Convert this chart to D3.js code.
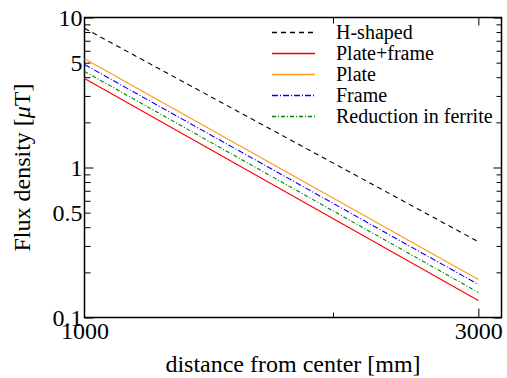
<!DOCTYPE html>
<html>
<head>
<meta charset="utf-8">
<script src="https://cdn.jsdelivr.net/npm/d3@7"></script>
<style>
  body { margin: 0; background: #fff; }
</style>
</head>
<body>
<div id="chart"></div>
<script>
// distances where each curve was read (mm)
var distances = [1000, 3000];

var seriesNames = ["H-shaped", "Plate+frame", "Plate", "Frame", "Reduction in ferrite"];
var hShaped = [8.47, 0.32];
var plateFrame = [3.92, 0.130];
var plate = [5.31, 0.179];
var frame = [4.86, 0.166];
var reduction = [4.37, 0.147];

var yLabelTicks = [10, 5, 1, 0.5, 0.1];
var yDecadeTicks = [10, 1, 0.1];
var yMinorTicks = [0.2, 0.3, 0.4, 0.5, 0.6, 0.7, 0.8, 0.9, 2, 3, 4, 5, 6, 7, 8, 9];
var xLabelTicks = [1000, 3000];
var xMinorTicks = [2000];

var width = 507, height = 378;
var margin = {top: 17.5, right: 5.5, bottom: 60.5, left: 84.5};
var serif = "'Liberation Serif', 'Times New Roman', Times, serif";

var svg = d3.select("#chart")
  .append("svg")
    .attr("width", width)
    .attr("height", height)
    .style("font-family", serif);

var x = d3.scaleLog()
  .domain([1000, 3200])
  .range([margin.left, width - margin.right]);

var y = d3.scaleLog()
  .domain([0.1, 10])
  .range([height - margin.bottom, margin.top]);

var styles = [
  {color: "#000000", dash: "5,4"},
  {color: "#ff0000", dash: null},
  {color: "#ff9a1a", dash: null},
  {color: "#0000ff", dash: "6,2,1,2"},
  {color: "#008000", dash: "4,2,1,2"}
];
var allValues = [hShaped, plateFrame, plate, frame, reduction];

// ticks, all pointing into the frame
function tickGroup(axis, tx, ty) {
  var g = svg.append("g")
    .attr("transform", "translate(" + tx + "," + ty + ")")
    .call(axis)
    .attr("font-family", null)
    .attr("font-size", null);
  g.select(".domain").remove();
  g.selectAll("line").attr("stroke", "#000").attr("stroke-width", 1);
  return g;
}

var x0 = margin.left, x1 = width - margin.right;
var y0 = margin.top, y1 = height - margin.bottom;

// left
tickGroup(d3.axisRight(y).tickValues(yDecadeTicks).tickSize(9).tickFormat(""), x0, 0);
tickGroup(d3.axisRight(y).tickValues(yMinorTicks).tickSize(6).tickFormat(""), x0, 0);
// right
tickGroup(d3.axisLeft(y).tickValues(yDecadeTicks).tickSize(8).tickFormat(""), x1, 0);
tickGroup(d3.axisLeft(y).tickValues(yMinorTicks).tickSize(5).tickFormat(""), x1, 0);
// bottom
tickGroup(d3.axisTop(x).tickValues([3000]).tickSize(9).tickFormat(""), 0, y1);
tickGroup(d3.axisTop(x).tickValues(xMinorTicks).tickSize(5).tickFormat(""), 0, y1);
// top
tickGroup(d3.axisBottom(x).tickValues([3000]).tickSize(8).tickFormat(""), 0, y0);
tickGroup(d3.axisBottom(x).tickValues(xMinorTicks).tickSize(6).tickFormat(""), 0, y0);

// tick labels
var yl = tickGroup(d3.axisLeft(y).tickValues(yLabelTicks).tickSize(0).tickPadding(2)
  .tickFormat(d3.format("")), x0, 0);
yl.selectAll("text").style("font-size", "24px").style("font-family", serif).attr("fill", "#000");

var xl = tickGroup(d3.axisBottom(x).tickValues(xLabelTicks).tickSize(0).tickPadding(4)
  .tickFormat(d3.format("")), 0, y1);
xl.selectAll("text").style("font-size", "24px").style("font-family", serif).attr("fill", "#000");

// frame
svg.append("rect")
  .attr("x", x0)
  .attr("y", y0)
  .attr("width", x1 - x0)
  .attr("height", y1 - y0)
  .attr("fill", "none")
  .attr("stroke", "#000")
  .attr("stroke-width", 1.5);

// curves
var line = d3.line()
  .x(function(d, i) { return x(distances[i]); })
  .y(function(d) { return y(d); });

allValues.forEach(function(vals, i) {
  svg.append("path")
    .datum(vals)
    .attr("d", line)
    .attr("fill", "none")
    .attr("stroke", styles[i].color)
    .attr("stroke-width", 1.1)
    .attr("stroke-dasharray", styles[i].dash);
});

// legend
var legend = svg.append("g").attr("transform", "translate(272,32.5)");
seriesNames.forEach(function(name, i) {
  var row = legend.append("g").attr("transform", "translate(0," + (i * 21) + ")");
  row.append("line")
    .attr("x1", 0).attr("x2", 43)
    .attr("y1", 0).attr("y2", 0)
    .style("stroke", styles[i].color)
    .style("stroke-width", 1.5)
    .style("stroke-dasharray", styles[i].dash || "none");
  row.append("text")
    .attr("x", 64)
    .attr("y", 6.5)
    .style("font-size", "20px")
    .style("font-family", serif)
    .text(name);
});

// axis titles
svg.append("text")
  .attr("x", (x0 + x1) / 2)
  .attr("y", 372)
  .attr("text-anchor", "middle")
  .style("font-size", "24px")
  .style("font-family", serif)
  .text("distance from center [mm]");

var yt = svg.append("text")
  .attr("transform", "translate(30," + ((y0 + y1) / 2) + ") rotate(-90)")
  .attr("text-anchor", "middle")
  .style("font-size", "24px")
  .style("font-family", serif);
yt.append("tspan").text("Flux density [");
yt.append("tspan").style("font-style", "italic").text("\u03bc");
yt.append("tspan").text("T]");
</script>
</body>
</html>
